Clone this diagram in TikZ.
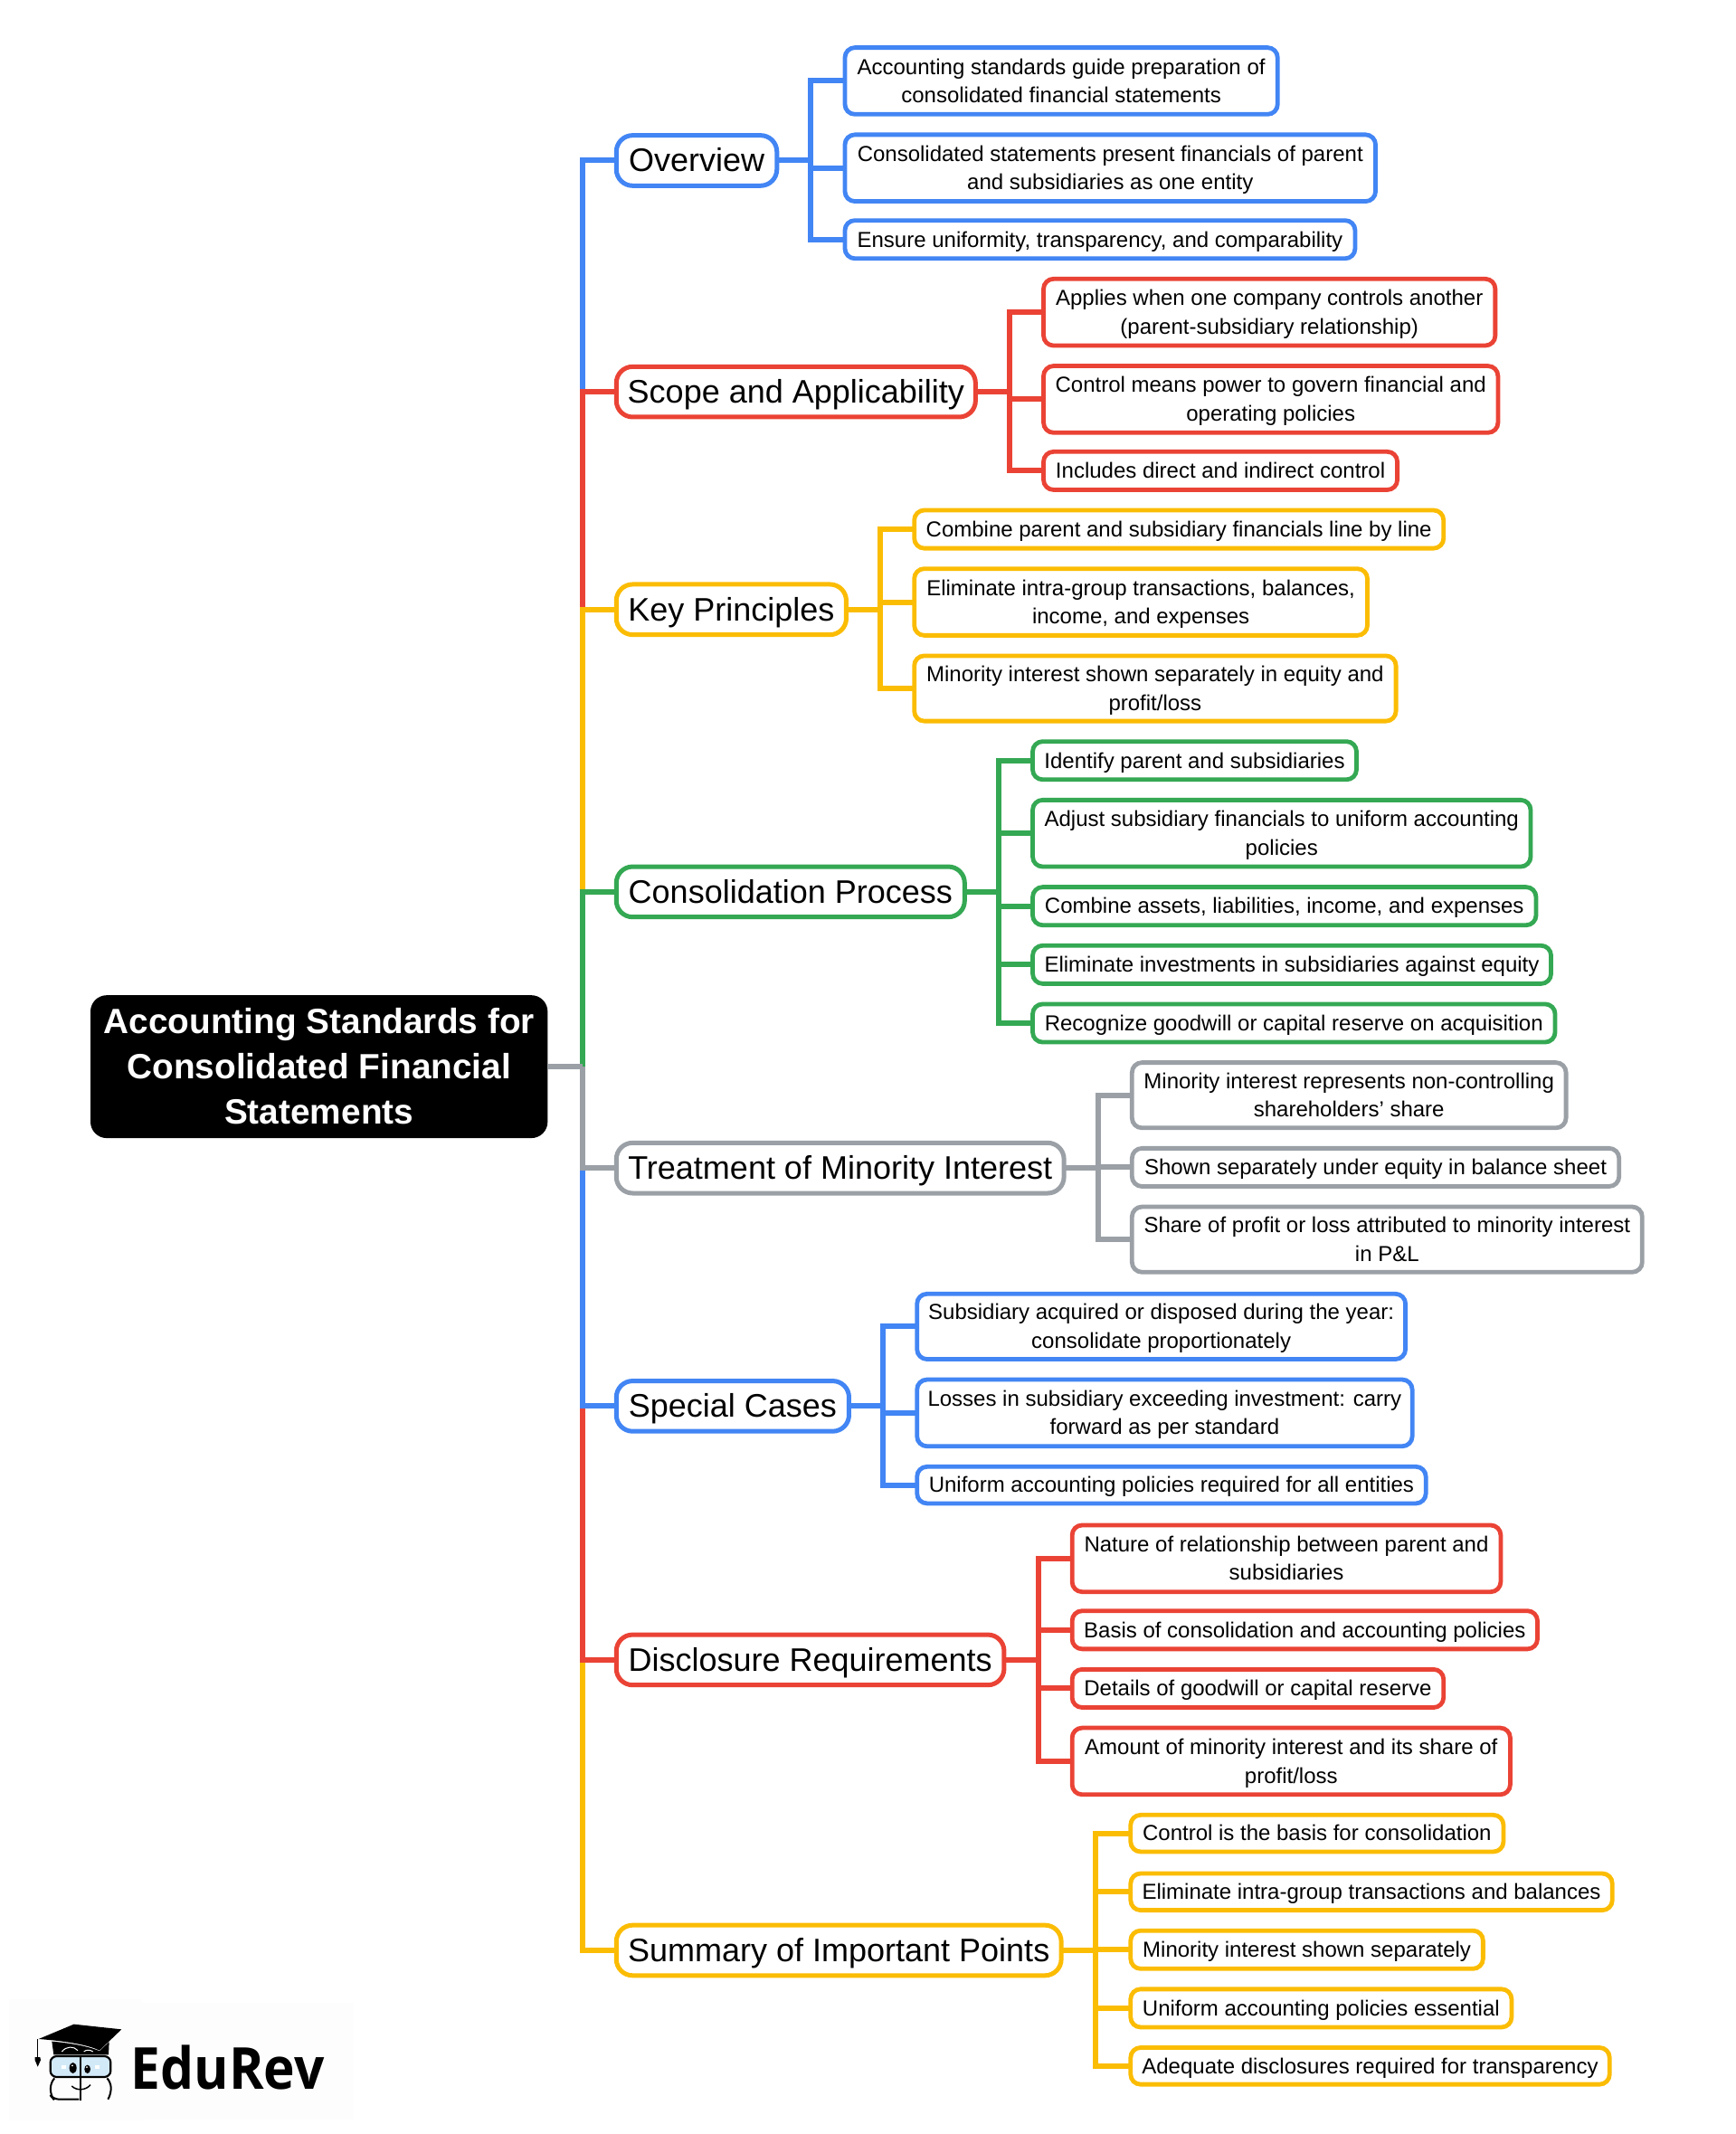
\documentclass[tikz,border=0pt]{standalone}
\usepackage{fontspec}
\setmainfont{Liberation Sans}
\newfontfamily\logofont{Open Sans}
\definecolor{cblue}{HTML}{4285F4}
\definecolor{cred}{HTML}{EA4335}
\definecolor{cyel}{HTML}{FBBC04}
\definecolor{cgreen}{HTML}{34A853}
\definecolor{cgray}{HTML}{9AA0A6}
\definecolor{lens}{HTML}{D2E9F8}
\definecolor{logobg}{HTML}{FDFDFD}
\tikzset{
  leafbox/.style={draw=#1,fill=white,line width=4.8pt,rounded corners=11pt,inner sep=0pt,outer sep=0pt,align=center,text=black,font=\fontsize{24}{31.5}\selectfont},
  branchbox/.style={draw=#1,fill=white,line width=5pt,rounded corners=18pt,inner sep=0pt,outer sep=0pt,align=center,text=black,font=\fontsize{36}{44}\selectfont},
  rootbox/.style={fill=black,rounded corners=18pt,inner sep=0pt,outer sep=0pt,align=center,text=white,font=\fontsize{38.8}{50}\selectfont\bfseries},
  conn/.style={draw=#1,line width=6pt,line join=miter,line cap=butt},
}
\newcommand\boxnode[8]{%
  \node[#1=#3,minimum width={(#6-#4)*1.504pt},minimum height={(#7-#5)*1.504pt}] (#2) at ({(#4+#6)/2},{(#5+#7)/2}) {\rule{0pt}{.905em}#8\rule[-.212em]{0pt}{.212em}};}
\begin{document}
\begin{tikzpicture}[x=1.504pt,y=-1.504pt]
\useasboundingbox (0,0) rectangle (1275.93,1568.5);
% root
\boxnode{rootbox}{root}{black}{66.5}{731.5}{402.5}{836.5}{Accounting Standards for\\Consolidated Financial\\Statements}
\coordinate (trunk) at (428,784);
% branches
\boxnode{branchbox}{ov}{cblue}{453}{99.5}{571}{136.5}{Overview}
\boxnode{branchbox}{sc}{cred}{453}{269.5}{717}{306.5}{Scope and Applicability}
\boxnode{branchbox}{kp}{cyel}{453}{429.5}{622}{466.5}{Key Principles}
\boxnode{branchbox}{cp}{cgreen}{453}{637}{709}{674}{Consolidation Process}
\boxnode{branchbox}{tm}{cgray}{453}{840}{782}{877}{Treatment of Minority Interest}
\boxnode{branchbox}{sp}{cblue}{453}{1015}{624}{1052}{Special Cases}
\boxnode{branchbox}{dr}{cred}{453}{1201.5}{738}{1238.5}{Disclosure Requirements}
\boxnode{branchbox}{si}{cyel}{453}{1415}{780}{1452}{Summary of Important Points}
% overview
\boxnode{leafbox}{ov1}{cblue}{621}{35}{939}{84}{Accounting standards guide preparation of\\consolidated financial statements}
\boxnode{leafbox}{ov2}{cblue}{621}{99}{1011}{148}{Consolidated statements present financials of parent\\and subsidiaries as one entity}
\boxnode{leafbox}{ov3}{cblue}{621}{162}{996}{190}{Ensure uniformity, transparency, and comparability}
% scope
\boxnode{leafbox}{sc1}{cred}{767}{205}{1099}{254}{Applies when one company controls another\\(parent-subsidiary relationship)}
\boxnode{leafbox}{sc2}{cred}{767}{269}{1101}{318}{Control means power to govern financial and\\operating policies}
\boxnode{leafbox}{sc3}{cred}{767}{332}{1027}{360}{Includes direct and indirect control}
% key principles
\boxnode{leafbox}{kp1}{cyel}{672}{375}{1061}{403}{Combine parent and subsidiary financials line by line}
\boxnode{leafbox}{kp2}{cyel}{672}{418}{1005}{467}{Eliminate intra-group transactions, balances,\\income, and expenses}
\boxnode{leafbox}{kp3}{cyel}{672}{482}{1026}{530}{Minority interest shown separately in equity and\\profit/loss}
% consolidation
\boxnode{leafbox}{cp1}{cgreen}{759}{545}{997}{573}{Identify parent and subsidiaries}
\boxnode{leafbox}{cp2}{cgreen}{759}{588}{1125}{637}{Adjust subsidiary financials to uniform accounting\\policies}
\boxnode{leafbox}{cp3}{cgreen}{759}{652}{1129}{680}{Combine assets, liabilities, income, and expenses}
\boxnode{leafbox}{cp4}{cgreen}{759}{695}{1140}{723}{Eliminate investments in subsidiaries against equity}
\boxnode{leafbox}{cp5}{cgreen}{759}{738}{1143}{766}{Recognize goodwill or capital reserve on acquisition}
% treatment
\boxnode{leafbox}{tm1}{cgray}{832}{781}{1151}{829}{Minority interest represents non-controlling\\shareholders' share}
\boxnode{leafbox}{tm2}{cgray}{832}{844}{1190}{872}{Shown separately under equity in balance sheet}
\boxnode{leafbox}{tm3}{cgray}{832}{887}{1207}{935}{Share of profit or loss attributed to minority interest\\in P\&L}
% special
\boxnode{leafbox}{sp1}{cblue}{674}{951}{1033}{999}{Subsidiary acquired or disposed during the year:\\consolidate proportionately}
\boxnode{leafbox}{sp2}{cblue}{674}{1014}{1038}{1063}{Losses in subsidiary exceeding investment: carry\\forward as per standard}
\boxnode{leafbox}{sp3}{cblue}{674}{1078}{1048}{1105}{Uniform accounting policies required for all entities}
% disclosure
\boxnode{leafbox}{dr1}{cred}{788}{1121}{1103}{1170}{Nature of relationship between parent and\\subsidiaries}
\boxnode{leafbox}{dr2}{cred}{788}{1184}{1130}{1212}{Basis of consolidation and accounting policies}
\boxnode{leafbox}{dr3}{cred}{788}{1227}{1061}{1255}{Details of goodwill or capital reserve}
\boxnode{leafbox}{dr4}{cred}{788}{1270}{1110}{1319}{Amount of minority interest and its share of\\profit/loss}
% summary
\boxnode{leafbox}{si1}{cyel}{831}{1334}{1105}{1361}{Control is the basis for consolidation}
\boxnode{leafbox}{si2}{cyel}{831}{1377}{1185}{1404}{Eliminate intra-group transactions and balances}
\boxnode{leafbox}{si3}{cyel}{831}{1419}{1090}{1447}{Minority interest shown separately}
\boxnode{leafbox}{si4}{cyel}{831}{1462}{1111}{1490}{Uniform accounting policies essential}
\boxnode{leafbox}{si5}{cyel}{831}{1505}{1183}{1532}{Adequate disclosures required for transparency}
% trunk, outermost first so that nearer branches lie on top
\draw[conn=cblue] (trunk) |- (ov.west);
\draw[conn=cred] (trunk) |- (sc.west);
\draw[conn=cyel] (trunk) |- (kp.west);
\draw[conn=cgreen] (trunk) |- (cp.west);
\draw[conn=cyel] (trunk) |- (si.west);
\draw[conn=cred] (trunk) |- (dr.west);
\draw[conn=cblue] (trunk) |- (sp.west);
\draw[conn=cgray] (trunk) |- (tm.west);
\draw[conn=cgray] (root.east) -- (trunk);
% branch buses
\foreach \c in {ov1,ov2,ov3} \draw[conn=cblue] (ov.east) -- ++(25,0) |- (\c.west);
\foreach \c in {sc1,sc2,sc3} \draw[conn=cred] (sc.east) -- ++(25,0) |- (\c.west);
\foreach \c in {kp1,kp2,kp3} \draw[conn=cyel] (kp.east) -- ++(25,0) |- (\c.west);
\foreach \c in {cp1,cp2,cp3,cp4,cp5} \draw[conn=cgreen] (cp.east) -- ++(25,0) |- (\c.west);
\foreach \c in {tm1,tm2,tm3} \draw[conn=cgray] (tm.east) -- ++(25,0) |- (\c.west);
\foreach \c in {sp1,sp2,sp3} \draw[conn=cblue] (sp.east) -- ++(25,0) |- (\c.west);
\foreach \c in {dr1,dr2,dr3,dr4} \draw[conn=cred] (dr.east) -- ++(25,0) |- (\c.west);
\foreach \c in {si1,si2,si3,si4,si5} \draw[conn=cyel] (si.east) -- ++(25,0) |- (\c.west);
% logo
\begin{scope}[shift={(0pt,-2150pt)},x=0.33333pt,y=-0.33333pt]
\fill[logobg] (30,180) rectangle (472,582);
\fill[logobg] (472,192) rectangle (1172,578);
\fill[black] (128,312) -- (245,263) -- (403,280) -- (330,350) .. controls (290,330) and (210,318) .. (128,312) -- cycle;
\fill[black] (172,320) .. controls (230,325) and (290,335) .. (330,352) -- (362,322) -- (360,364) -- (178,364) -- cycle;
\draw[white,line width=1pt] (205,354) .. controls (220,335) and (245,335) .. (258,350);
\draw[white,line width=1pt] (278,354) .. controls (285,347) and (300,347) .. (308,354);
\draw[black,line width=1pt] (124,312) -- (124,372);
\fill[black] (116,372) -- (133,372) -- (135,382) -- (125,404) -- (116,382) -- cycle;
\draw[black,line width=2.2pt,fill=lens,rounded corners=7pt] (167,369) rectangle (367,438);
\fill[black] (242,408) ellipse [x radius=12,y radius=18];
\fill[black] (290,412) ellipse [x radius=10,y radius=14];
\fill[white] (240,400) circle (3) (288,405) circle (3);
\fill[white] (205,399) rectangle (219,412);
\fill[white] (316,399) rectangle (330,412);
\draw[black,line width=2pt,rounded corners=6pt] (262,512) -- (178,512) -- (168,500) -- (168,455) -- (178,445);
\draw[black,line width=2pt,rounded corners=6pt] (358,445) -- (368,455) -- (368,495) -- (358,512);
\draw[black,line width=2pt] (268,365) -- (268,515);
\draw[black,line width=1.5pt] (238,468) .. controls (255,485) and (285,482) .. (300,464);
\node[anchor=base west,inner sep=0pt,font=\fontsize{64}{64}\logofont\bfseries] (brand) at (434,477) {\scalebox{0.915}[1]{EduRev}};
\end{scope}
\end{tikzpicture}
\end{document}
